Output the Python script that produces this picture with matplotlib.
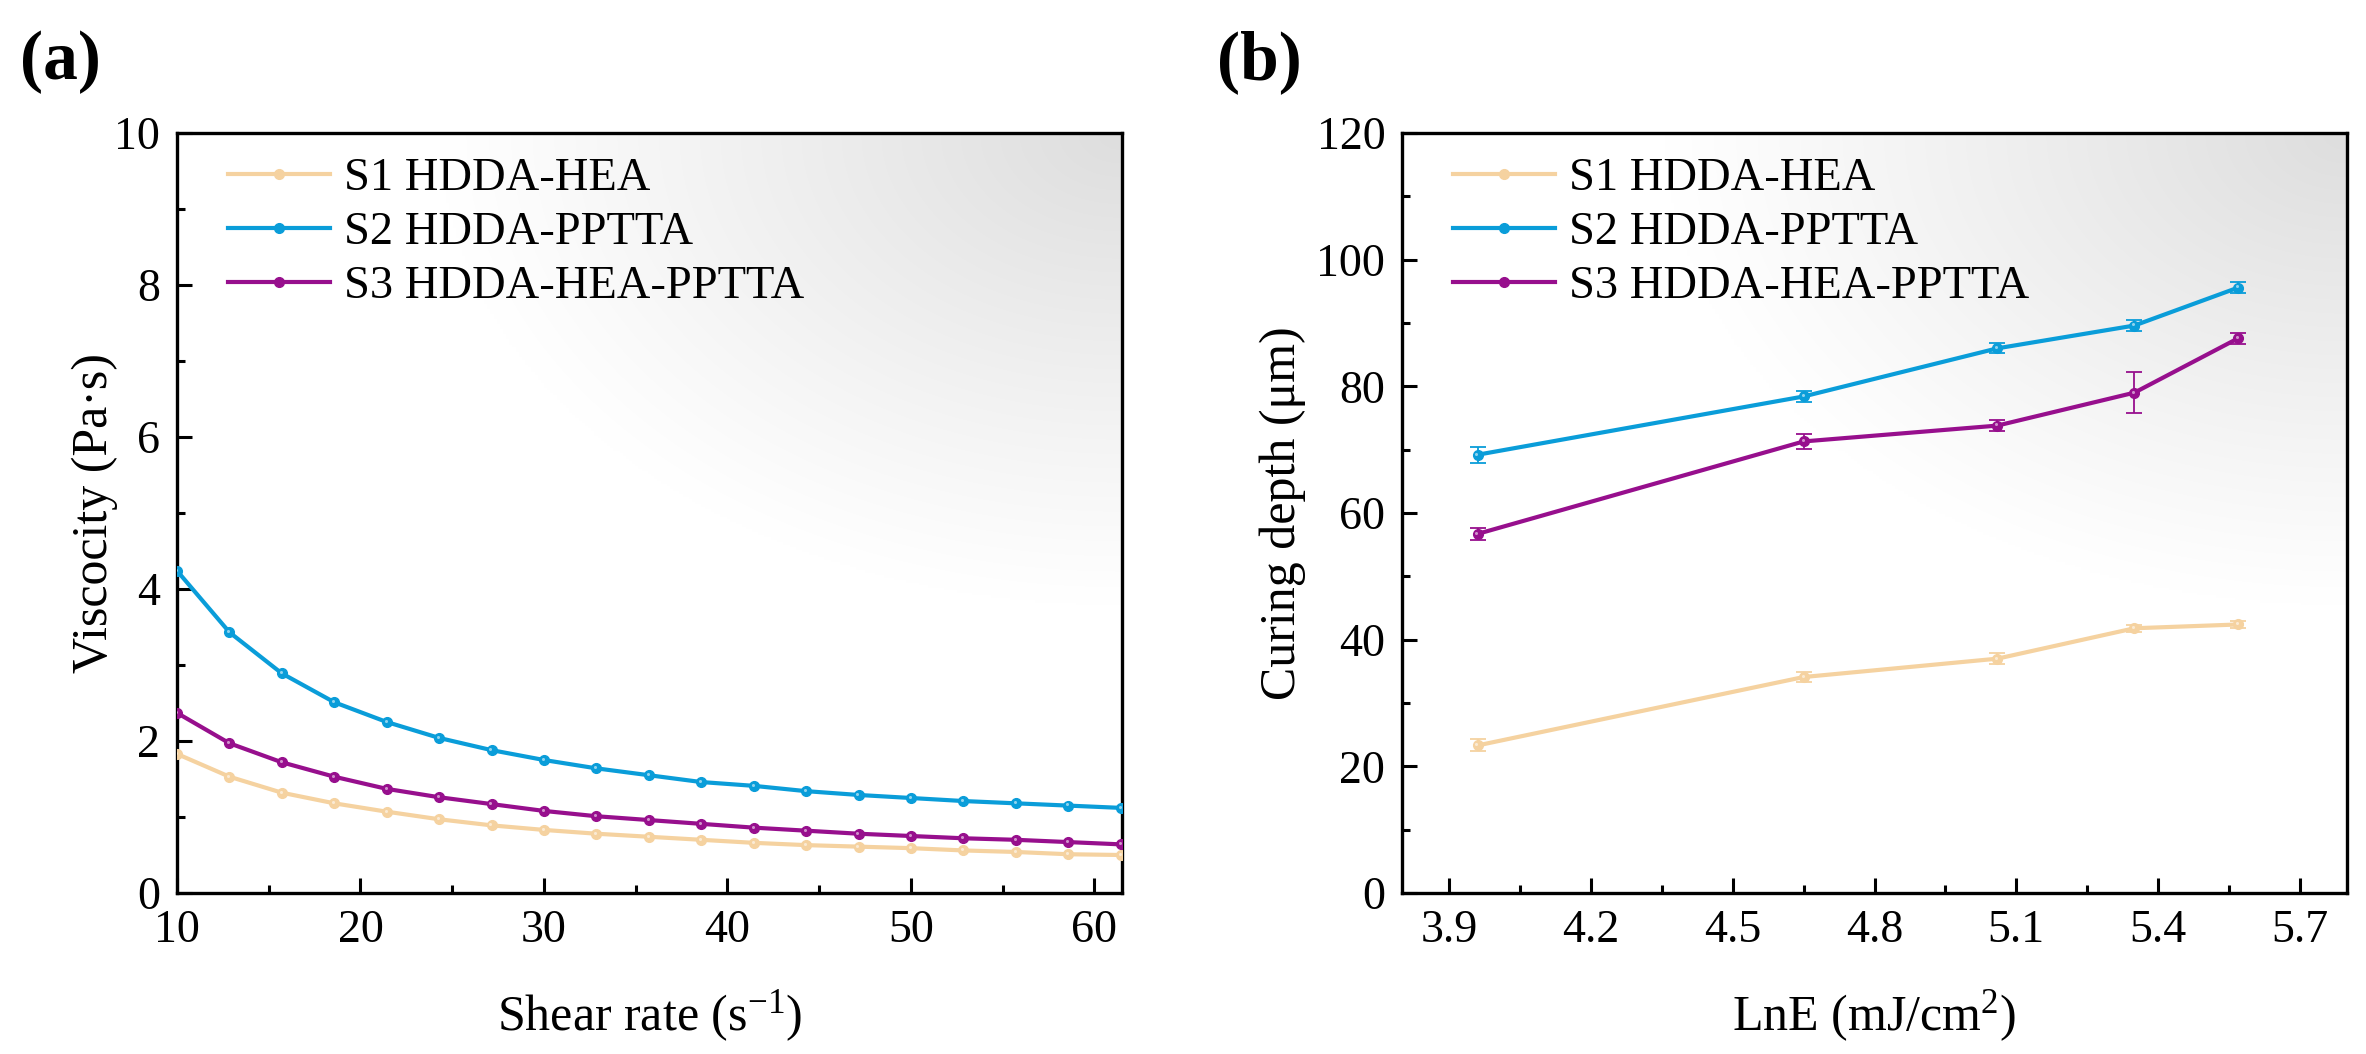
import numpy as np
import matplotlib
matplotlib.use("Agg")
import matplotlib.pyplot as plt
from matplotlib.lines import Line2D
from matplotlib.transforms import offset_copy

plt.rcParams['font.family'] = ['Liberation Serif', 'DejaVu Serif']
plt.rcParams['mathtext.fontset'] = 'custom'
plt.rcParams['mathtext.rm'] = 'Liberation Serif'
plt.rcParams['mathtext.it'] = 'Liberation Serif:italic'

# (a) viscosity vs shear rate
shear = [10.0, 12.86, 15.71, 18.57, 21.43, 24.29, 27.14, 30.0, 32.86, 35.71,
         38.57, 41.43, 44.29, 47.14, 50.0, 52.86, 55.71, 58.57, 61.43]
visc_s1 = [1.83, 1.53, 1.32, 1.18, 1.07, 0.97, 0.89, 0.83, 0.78, 0.74,
           0.70, 0.66, 0.63, 0.61, 0.59, 0.56, 0.54, 0.51, 0.50]
visc_s2 = [4.24, 3.43, 2.89, 2.51, 2.25, 2.04, 1.88, 1.75, 1.64, 1.55,
           1.46, 1.41, 1.34, 1.29, 1.25, 1.21, 1.18, 1.15, 1.12]
visc_s3 = [2.37, 1.97, 1.72, 1.53, 1.37, 1.26, 1.17, 1.08, 1.01, 0.96,
           0.91, 0.86, 0.82, 0.78, 0.75, 0.72, 0.70, 0.67, 0.64]

# (b) curing depth vs LnE
lne = [3.96, 4.65, 5.06, 5.35, 5.57]
depth_s1 = [23.3, 34.1, 37.0, 41.8, 42.4]
err_s1 = [0.95, 0.8, 0.85, 0.55, 0.5]
depth_s2 = [69.2, 78.4, 86.0, 89.6, 95.6]
err_s2 = [1.3, 0.9, 0.8, 0.9, 0.8]
depth_s3 = [56.7, 71.3, 73.8, 79.0, 87.6]
err_s3 = [0.9, 1.2, 0.85, 3.2, 0.9]

labels = ['S1 HDDA-HEA', 'S2 HDDA-PPTTA', 'S3 HDDA-HEA-PPTTA']
colors = ['#F5D2A0', '#0A9DD9', '#970F8D']

W, H = 2366, 1054
fig = plt.figure(figsize=(W / 100, H / 100), dpi=100)
ax1 = fig.add_axes([177 / W, (H - 893) / H, 945 / W, 760 / H])
ax2 = fig.add_axes([1402 / W, (H - 893) / H, 945 / W, 760 / H])


def background(ax):
    xx, yy = np.meshgrid(np.linspace(0, 1, 300), np.linspace(0, 1, 300))
    d = np.sqrt(((1 - xx) / 0.72) ** 2 + ((1 - yy) / 0.62) ** 2)
    shade = 0.13 * np.clip(1 - d, 0, 1) ** 1.05
    img = np.dstack([1 - shade] * 3)
    ax.imshow(img, extent=(0, 1, 0, 1), origin='lower', aspect='auto',
              transform=ax.transAxes, zorder=0, interpolation='bilinear')


def style(ax):
    for s in ax.spines.values():
        s.set_linewidth(2.4)
    ax.tick_params(which='both', direction='in', top=False, right=False,
                   width=2.2, labelsize=33, pad=12)
    ax.tick_params(which='major', length=11)
    ax.tick_params(which='minor', length=6)


def highlight(ax, x, y):
    tr = offset_copy(ax.transData, fig=fig, x=-0.8, y=0.8, units='points')
    ax.plot(x, y, 'o', ms=2.2, color='white', alpha=0.55, mec='none',
            transform=tr, zorder=5)


background(ax1)
for ys, c, lab in zip([visc_s1, visc_s2, visc_s3], colors, labels):
    ax1.plot(shear, ys, '-o', color=c, lw=3.0, ms=7, label=lab, zorder=4)
    highlight(ax1, shear, ys)
ax1.set_xlim(10, 61.5)
ax1.set_ylim(0, 10)
ax1.set_xticks([10, 20, 30, 40, 50, 60])
ax1.set_xticks(np.arange(15, 61, 10), minor=True)
ax1.set_yticks([0, 2, 4, 6, 8, 10])
ax1.set_yticks([1, 3, 5, 7, 9], minor=True)
ax1.set_xlabel(r'Shear rate (s$^{-1}$)', fontsize=36)
ax1.set_ylabel('Viscocity (Pa·s)', fontsize=36)
ax1.xaxis.set_label_coords(0.5, -0.125)
ax1.yaxis.set_label_coords(-0.062, 0.5)
style(ax1)

background(ax2)
for ys, es, c, lab in zip([depth_s1, depth_s2, depth_s3], [err_s1, err_s2, err_s3],
                          colors, labels):
    ax2.errorbar(lne, ys, yerr=es, fmt='-o', color=c, lw=3.0, ms=7,
                 elinewidth=1.3, capsize=5.5, capthick=1.3, zorder=4)
    highlight(ax2, lne, ys)
ax2.set_xlim(3.8, 5.8)
ax2.set_ylim(0, 120)
ax2.set_xticks([3.9, 4.2, 4.5, 4.8, 5.1, 5.4, 5.7])
ax2.set_xticks([4.05, 4.35, 4.65, 4.95, 5.25, 5.55], minor=True)
ax2.set_yticks([0, 20, 40, 60, 80, 100, 120])
ax2.set_yticks([10, 30, 50, 70, 90, 110], minor=True)
ax2.set_xlabel(r'LnE (mJ/cm$^{2}$)', fontsize=36)
ax2.set_ylabel('Curing depth (μm)', fontsize=36)
ax2.xaxis.set_label_coords(0.5, -0.125)
ax2.yaxis.set_label_coords(-0.102, 0.5)
style(ax2)

handles = [Line2D([], [], color=c, lw=3.0, marker='o', ms=7) for c in colors]
for ax in (ax1, ax2):
    ax.legend(handles, labels, loc='upper left', bbox_to_anchor=(0.054, 0.968),
              frameon=False, fontsize=33.5, borderaxespad=0, borderpad=0,
              handlelength=2.2, handletextpad=0.3, labelspacing=0.25)

fig.text(20 / W, 1 - 62 / H, '(a)', fontsize=50, fontweight='bold', va='center')
fig.text(1217 / W, 1 - 62 / H, '(b)', fontsize=50, fontweight='bold', va='center')

fig.savefig('out.png', dpi=100)
